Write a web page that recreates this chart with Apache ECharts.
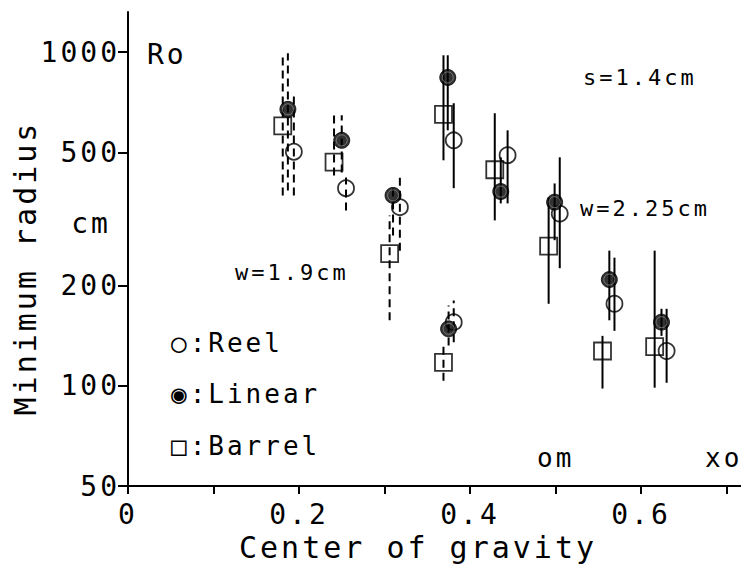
<!DOCTYPE html>
<html>
<head>
<meta charset="utf-8">
<script src="https://cdn.jsdelivr.net/npm/echarts@6/dist/echarts.min.js"></script>
<style>
  html, body { margin: 0; padding: 0; background: #fff; }
  #chart { width: 741px; height: 569px; }
  #chart text { letter-spacing: 3px; }
</style>
</head>
<body>
<div id="chart"></div>
<script>
// tick positions
const xTicks = [0, 0.1, 0.2, 0.3, 0.4, 0.5, 0.6, 0.7]
const xLabels = [0, 0.2, 0.4, 0.6]
const yTicks = [50, 100, 200, 500, 1000]

// which groups have dashed error bars (w=1.9cm)
const groupDashed = [true, true, true, false, true, false, false, false, false]

// Reel (open circle)
const reelX  = [0.194, 0.255, 0.318, 0.381, 0.381, 0.444, 0.505, 0.569, 0.630]
const reelY  = [503, 391, 343, 544, 155, 491, 328, 176, 127]
const reelLo = [372, 335, 254, 391, 135, 352, 225, 146, 102]
const reelHi = [743, 421, 421, 703, 180, 583, 484, 242, 170]

// Linear (filled circle)
const linearX  = [0.187, 0.250, 0.310, 0.374, 0.375, 0.436, 0.499, 0.563, 0.624]
const linearY  = [674, 544, 372, 840, 148, 382, 355, 208, 155]
const linearLo = [385, 436, 282, 583, 132, 352, 273, 157, 141]
const linearHi = [993, 647, 391, 979, 174, 484, 404, 254, 170]

// Barrel (open square)
const barrelX  = [0.181, 0.241, 0.306, 0.369, 0.369, 0.429, 0.492, 0.555, 0.616]
const barrelY  = [601, 468, 249, 651, 117.5, 444, 262, 127, 131]
const barrelLo = [372, 427, 157, 474, 103.5, 313, 176, 98, 98.6]
const barrelHi = [993, 647, 324, 979, 132, 656, 367, 141, 254]

const FONT = 'DejaVu Sans Mono'

const pts = (xs, ys) => xs.map((x, i) => [x, ys[i]])
const bars = (xs, lo, hi) => xs.map((x, i) => [x, lo[i], hi[i], groupDashed[i] ? 1 : 0])

function errorBars(name, data) {
  return {
    name,
    type: 'custom',
    z: 1,
    silent: true,
    data,
    renderItem(params, api) {
      const x = api.value(0)
      const a = api.coord([x, api.value(1)])
      const b = api.coord([x, api.value(2)])
      return {
        type: 'line',
        shape: { x1: a[0], y1: a[1], x2: b[0], y2: b[1] },
        style: {
          stroke: '#000',
          lineWidth: 2,
          lineDash: api.value(3) ? [8, 5] : null
        }
      }
    }
  }
}

function label(text, x, y, size, align, rotation) {
  return {
    type: 'text', x, y, rotation: rotation || 0,
    style: {
      text, fill: '#000',
      font: `${size}px "${FONT}"`,
      textAlign: align || 'left',
      textVerticalAlign: 'middle'
    }
  }
}

const chart = echarts.init(document.getElementById('chart'), null, { renderer: 'svg' })

chart.setOption({
  backgroundColor: '#fff',
  animation: false,
  grid: { left: 128, right: 0, top: 12, bottom: 83 },
  xAxis: {
    type: 'value',
    min: 0, max: 0.717,
    splitLine: { show: false },
    axisLine: { lineStyle: { color: '#000', width: 2 } },
    axisTick: { customValues: xTicks, length: 8, lineStyle: { color: '#000', width: 2 } },
    axisLabel: {
      customValues: xLabels,
      color: '#000', fontFamily: FONT, fontSize: 28, margin: 14,
      formatter: v => v === 0 ? '0' : v.toFixed(1)
    }
  },
  yAxis: {
    type: 'log',
    min: 50, max: 1320,
    splitLine: { show: false },
    axisLine: { lineStyle: { color: '#000', width: 2 } },
    axisTick: { customValues: yTicks, length: 10, lineStyle: { color: '#000', width: 2 } },
    axisLabel: {
      customValues: yTicks,
      color: '#000', fontFamily: FONT, fontSize: 28, margin: 8,
      formatter: v => String(Math.round(v))
    }
  },
  graphic: [
    label('Minimum radius', 25, 268, 30, 'center', Math.PI / 2),
    label('cm', 91, 223, 28, 'center'),
    label('Center of gravity', 418, 547, 30, 'center'),
    label('Ro', 147, 54, 28),
    label('s=1.4cm', 583, 77, 22),
    label('w=2.25cm', 580, 208, 22),
    label('w=1.9cm', 235, 272, 22),
    label('○:Reel', 171, 343, 26),
    label('◉:Linear', 171, 394, 26),
    label('□:Barrel', 171, 446, 26),
    label('om', 537, 458, 26),
    label('xo', 705, 458, 26)
  ],
  series: [
    errorBars('Reel err', bars(reelX, reelLo, reelHi)),
    errorBars('Linear err', bars(linearX, linearLo, linearHi)),
    errorBars('Barrel err', bars(barrelX, barrelLo, barrelHi)),
    {
      name: 'Barrel', type: 'scatter', z: 3,
      symbol: 'rect', symbolSize: 17,
      itemStyle: { color: 'rgba(0,0,0,0)', borderColor: '#000', borderWidth: 1.8 },
      data: pts(barrelX, barrelY)
    },
    {
      name: 'Reel', type: 'scatter', z: 3,
      symbol: 'circle', symbolSize: 16,
      itemStyle: { color: 'rgba(0,0,0,0)', borderColor: '#000', borderWidth: 1.8 },
      data: pts(reelX, reelY)
    },
    {
      name: 'Linear', type: 'scatter', z: 4,
      symbol: 'circle', symbolSize: 16,
      itemStyle: { color: '#000', borderColor: '#000', borderWidth: 1 },
      data: pts(linearX, linearY)
    },
    {
      name: 'Linear ring', type: 'scatter', z: 5, silent: true,
      symbol: 'circle', symbolSize: 11,
      itemStyle: { color: 'rgba(0,0,0,0)', borderColor: '#888', borderWidth: 1 },
      data: pts(linearX, linearY)
    }
  ]
})

window.addEventListener('resize', () => chart.resize())
</script>
</body>
</html>
